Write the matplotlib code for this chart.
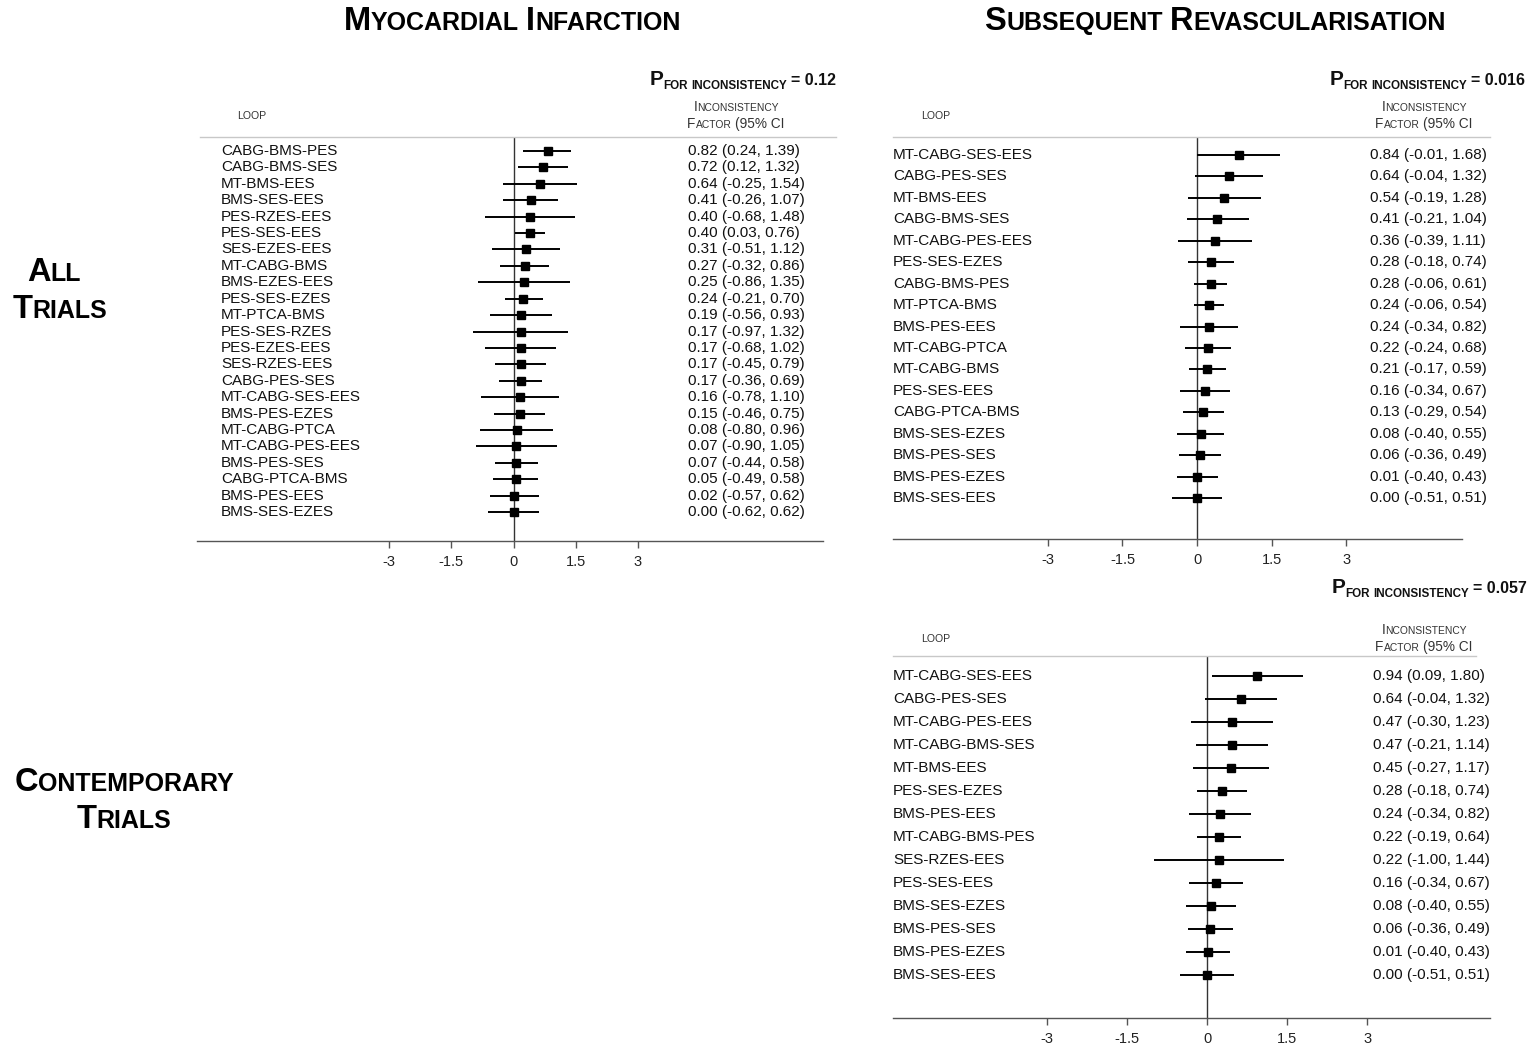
import matplotlib.pyplot as plt
from matplotlib.transforms import IdentityTransform

# Myocardial infarction, all trials
mi_loops = ['CABG-BMS-PES', 'CABG-BMS-SES', 'MT-BMS-EES', 'BMS-SES-EES', 'PES-RZES-EES',
            'PES-SES-EES', 'SES-EZES-EES', 'MT-CABG-BMS', 'BMS-EZES-EES', 'PES-SES-EZES',
            'MT-PTCA-BMS', 'PES-SES-RZES', 'PES-EZES-EES', 'SES-RZES-EES', 'CABG-PES-SES',
            'MT-CABG-SES-EES', 'BMS-PES-EZES', 'MT-CABG-PTCA', 'MT-CABG-PES-EES', 'BMS-PES-SES',
            'CABG-PTCA-BMS', 'BMS-PES-EES', 'BMS-SES-EZES']
mi_est = [0.82, 0.72, 0.64, 0.41, 0.40, 0.40, 0.31, 0.27, 0.25, 0.24, 0.19, 0.17,
          0.17, 0.17, 0.17, 0.16, 0.15, 0.08, 0.07, 0.07, 0.05, 0.02, 0.00]
mi_lo = [0.24, 0.12, -0.25, -0.26, -0.68, 0.03, -0.51, -0.32, -0.86, -0.21, -0.56, -0.97,
         -0.68, -0.45, -0.36, -0.78, -0.46, -0.80, -0.90, -0.44, -0.49, -0.57, -0.62]
mi_hi = [1.39, 1.32, 1.54, 1.07, 1.48, 0.76, 1.12, 0.86, 1.35, 0.70, 0.93, 1.32,
         1.02, 0.79, 0.69, 1.10, 0.75, 0.96, 1.05, 0.58, 0.58, 0.62, 0.62]
mi_p = '0.12'

# Subsequent revascularisation, all trials
sr_loops = ['MT-CABG-SES-EES', 'CABG-PES-SES', 'MT-BMS-EES', 'CABG-BMS-SES', 'MT-CABG-PES-EES',
            'PES-SES-EZES', 'CABG-BMS-PES', 'MT-PTCA-BMS', 'BMS-PES-EES', 'MT-CABG-PTCA',
            'MT-CABG-BMS', 'PES-SES-EES', 'CABG-PTCA-BMS', 'BMS-SES-EZES', 'BMS-PES-SES',
            'BMS-PES-EZES', 'BMS-SES-EES']
sr_est = [0.84, 0.64, 0.54, 0.41, 0.36, 0.28, 0.28, 0.24, 0.24, 0.22, 0.21, 0.16,
          0.13, 0.08, 0.06, 0.01, 0.00]
sr_lo = [-0.01, -0.04, -0.19, -0.21, -0.39, -0.18, -0.06, -0.06, -0.34, -0.24, -0.17, -0.34,
         -0.29, -0.40, -0.36, -0.40, -0.51]
sr_hi = [1.68, 1.32, 1.28, 1.04, 1.11, 0.74, 0.61, 0.54, 0.82, 0.68, 0.59, 0.67,
         0.54, 0.55, 0.49, 0.43, 0.51]
sr_p = '0.016'

# Subsequent revascularisation, contemporary trials
ct_loops = ['MT-CABG-SES-EES', 'CABG-PES-SES', 'MT-CABG-PES-EES', 'MT-CABG-BMS-SES', 'MT-BMS-EES',
            'PES-SES-EZES', 'BMS-PES-EES', 'MT-CABG-BMS-PES', 'SES-RZES-EES', 'PES-SES-EES',
            'BMS-SES-EZES', 'BMS-PES-SES', 'BMS-PES-EZES', 'BMS-SES-EES']
ct_est = [0.94, 0.64, 0.47, 0.47, 0.45, 0.28, 0.24, 0.22, 0.22, 0.16, 0.08, 0.06, 0.01, 0.00]
ct_lo = [0.09, -0.04, -0.30, -0.21, -0.27, -0.18, -0.34, -0.19, -1.00, -0.34, -0.40, -0.36, -0.40, -0.51]
ct_hi = [1.80, 1.32, 1.23, 1.14, 1.17, 0.74, 0.82, 0.64, 1.44, 0.67, 0.55, 0.49, 0.43, 0.51]
ct_p = '0.057'

ticks = [-3, -1.5, 0, 1.5, 3]
tick_labels = ['-3', '-1.5', '0', '1.5', '3']

W, H = 1530, 1048
plt.rcParams['font.family'] = ['Liberation Sans', 'DejaVu Sans']
fig = plt.figure(figsize=(W / 100, H / 100), dpi=100)
renderer = fig.canvas.get_renderer()


def text_run(x, y, parts, ha='left', weight='normal', color='black'):
    # parts: (string, size in pt, baseline drop in px); x, y in pixels from top-left, y = baseline
    items = []
    total = 0.0
    for s, size, dy in parts:
        if s == ' ':
            w = 0.278 * size * 100 / 72
            items.append((None, w, dy))
        else:
            t = fig.text(0, 0, s, fontsize=size, fontweight=weight, color=color,
                         transform=IdentityTransform(), ha='left', va='baseline')
            w = t.get_window_extent(renderer).width
            items.append((t, w, dy))
        total += w
    if ha == 'center':
        x0 = x - total / 2
    elif ha == 'right':
        x0 = x - total
    else:
        x0 = x
    for t, w, dy in items:
        if t is not None:
            t.set_position((x0, H - y - dy))
        x0 += w


def smallcaps(text, big, small, dy=0):
    parts = []
    for i, word in enumerate(text.split(' ')):
        if i:
            parts.append((' ', small, dy))
        parts.append((word[0], big, dy))
        if len(word) > 1:
            parts.append((word[1:].upper(), small, dy))
    return parts


def p_header(x, y, p):
    parts = [('P', 15, 0), ('FOR', 8.4, 4), (' ', 8.4, 4), ('INCONSISTENCY', 8.4, 4),
             (' ', 11.5, 0), ('= ' + p, 11.5, 0)]
    text_run(x, y, parts, ha='right', weight='bold', color='#111111')


def col_headers(loop_x, inc_x, y):
    text_run(loop_x, y + 4, [('LOOP', 7.6, 0)], ha='center', color='#333333')
    text_run(inc_x, y - 4, smallcaps('INCONSISTENCY', 9.8, 7.4), ha='center', color='#333333')
    text_run(inc_x, y + 13, [('F', 9.8, 0), ('ACTOR', 7.4, 0), (' ', 9.8, 0), ('(95% CI', 9.8, 0)],
             ha='center', color='#333333')


def forest(box, zero_px, unit_px, row0, step, loops, est, lo, hi, label_px, value_px,
           line_span, ms):
    left, top, right, bottom = box
    ax = fig.add_axes([left / W, 1 - bottom / H, (right - left) / W, (bottom - top) / H])
    ax.set_xlim((left - zero_px) / unit_px, (right - zero_px) / unit_px)
    ax.set_ylim((bottom - row0) / step, (top - row0) / step)
    rows = list(range(len(loops)))
    ax.axvline(0, color='#333333', lw=1.0, zorder=1)
    ax.hlines(rows, lo, hi, color='black', lw=1.4, zorder=2)
    ax.plot(est, rows, 's', color='black', ms=ms, zorder=3)
    lx = (label_px - zero_px) / unit_px
    vx = (value_px - zero_px) / unit_px
    for i, name in enumerate(loops):
        ax.text(lx, i, name, fontsize=11, ha='left', va='center', color='#111111')
        ax.text(vx, i, f'{est[i]:.2f} ({lo[i]:.2f}, {hi[i]:.2f})', fontsize=11,
                ha='left', va='center', color='#111111')
    # light rule under the column headers
    a = (line_span[0] - left) / (right - left)
    b = (line_span[1] - left) / (right - left)
    ax.plot([a, b], [1, 1], transform=ax.transAxes, color='#c8c8c8', lw=1.0, clip_on=False)
    for s in ['top', 'left', 'right']:
        ax.spines[s].set_visible(False)
    ax.spines['bottom'].set_color('#555555')
    ax.spines['bottom'].set_linewidth(1.0)
    ax.set_yticks([])
    ax.set_xticks(ticks)
    ax.set_xticklabels(tick_labels)
    ax.tick_params(axis='x', length=5, width=1, color='#555555', pad=5,
                   labelsize=10.5, labelcolor='#222222')
    ax.patch.set_visible(False)
    return ax


# myocardial infarction panel
forest((197, 137, 823, 541), 513.5, 41.5, 151, 16.41, mi_loops, mi_est, mi_lo, mi_hi,
       221, 688, (200, 836), 5.2)
p_header(836, 85, mi_p)
col_headers(252, 736, 115)

# revascularisation, all trials
forest((893, 137, 1462, 539), 1197, 49.7, 155, 21.44, sr_loops, sr_est, sr_lo, sr_hi,
       893, 1370, (893, 1490), 5.6)
p_header(1525, 85, sr_p)
col_headers(936, 1424, 115)

# revascularisation, contemporary trials
forest((893, 656, 1490, 1018), 1207, 53.4, 676, 23.0, ct_loops, ct_est, ct_lo, ct_hi,
       893, 1373, (893, 1476), 5.6)
p_header(1527, 593, ct_p)
col_headers(936, 1424, 638)

# panel titles and row headings
big, small = 23.5, 18.0
text_run(512, 30, smallcaps('MYOCARDIAL INFARCTION', big, small), ha='center', weight='bold')
text_run(1215, 30, smallcaps('SUBSEQUENT REVASCULARISATION', big, small), ha='center', weight='bold')
text_run(54, 281, smallcaps('ALL', big, small), ha='center', weight='bold')
text_run(60, 318, smallcaps('TRIALS', big, small), ha='center', weight='bold')
text_run(124, 791, smallcaps('CONTEMPORARY', big, small), ha='center', weight='bold')
text_run(124, 828, smallcaps('TRIALS', big, small), ha='center', weight='bold')

fig.savefig('out.png', dpi=100)
